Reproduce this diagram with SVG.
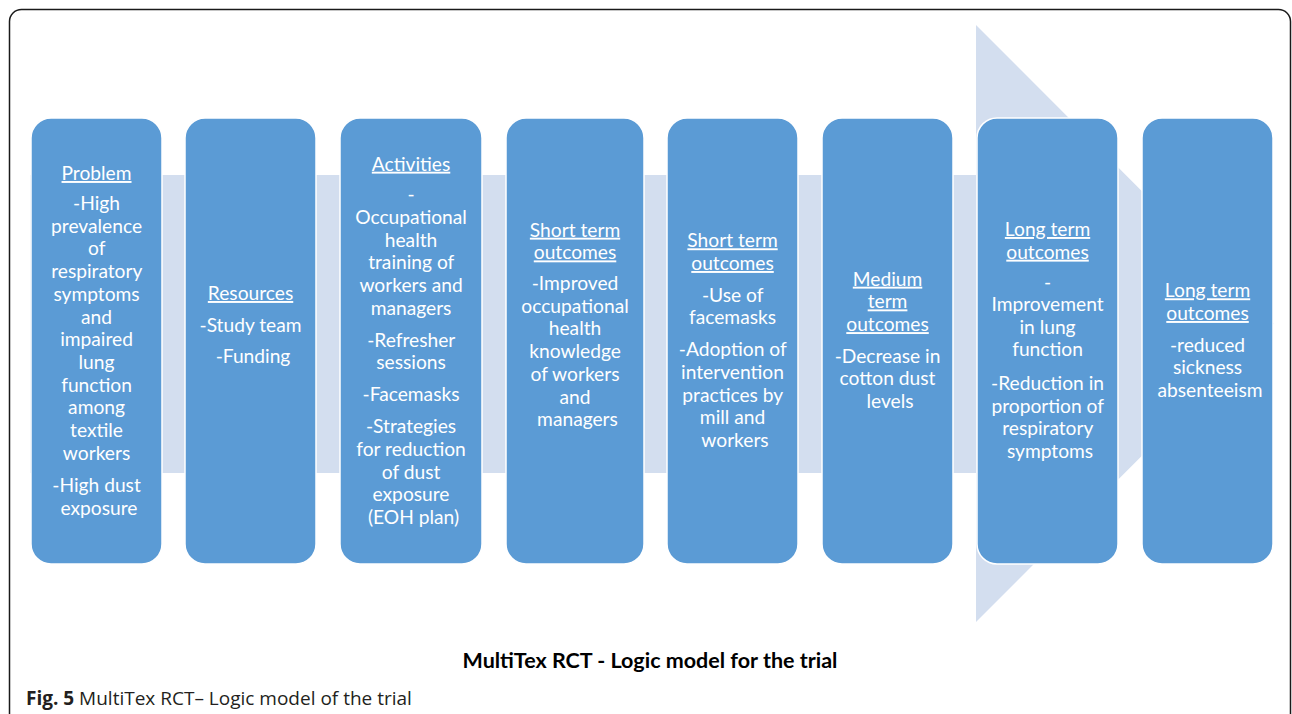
<svg xmlns="http://www.w3.org/2000/svg" width="1292" height="714" viewBox="0 0 1292 714">
<style>
.box{fill:#5B9BD5;stroke:#FFFFFF;stroke-width:1.5}
.t{font-family:Lato,"Open Sans","Liberation Sans",sans-serif;font-size:19.2px;fill:#FFFFFF;text-anchor:middle}
.u{text-decoration:underline}
.cap{font-family:Lato,"Liberation Sans",sans-serif;font-size:21.5px;font-weight:bold;fill:#000000;text-anchor:middle}
.fig{font-family:"Open Sans","Liberation Sans",sans-serif;font-size:19px;fill:#231F20}
</style>
<rect width="1292" height="714" fill="#FFFFFF"/>
<rect x="9.5" y="9.5" width="1281" height="760" rx="12" ry="12" fill="none" stroke="#1A1A1A" stroke-width="1.5"/>
<g id="connectors">
<polygon points="30,175 976,175 976,25 1274,323.5 976,622 976,473 30,473" fill="#D3DEEF"/>
</g>
<g id="problem">
<rect class="box" x="31" y="118" width="131" height="446" rx="20"/>
<text class="t" transform="translate(2.5,0)">
<tspan class="u" x="96.5" y="180">Problem</tspan>
<tspan x="96.5" y="210">-High</tspan>
<tspan x="96.5" y="232.7">prevalence</tspan>
<tspan x="96.5" y="255.4">of</tspan>
<tspan x="96.5" y="278.1">respiratory</tspan>
<tspan x="96.5" y="300.8">symptoms</tspan>
<tspan x="96.5" y="323.5">and</tspan>
<tspan x="96.5" y="346.2">impaired</tspan>
<tspan x="96.5" y="368.9">lung</tspan>
<tspan x="96.5" y="391.6">function</tspan>
<tspan x="96.5" y="414.3">among</tspan>
<tspan x="96.5" y="437">textile</tspan>
<tspan x="96.5" y="459.7">workers</tspan>
<tspan x="96.5" y="492">-High dust</tspan>
<tspan x="96.5" y="514.7">exposure</tspan>
</text>
</g>
<g id="resources">
<rect class="box" x="185" y="118" width="131" height="446" rx="20"/>
<text class="t" transform="translate(2.5,0)">
<tspan class="u" x="250.5" y="300">Resources</tspan>
<tspan x="250.5" y="331.7">-Study team</tspan>
<tspan x="250.5" y="363">-Funding</tspan>
</text>
</g>
<g id="activities">
<rect class="box" x="340" y="118" width="142" height="446" rx="20"/>
<text class="t" transform="translate(2.5,0)">
<tspan class="u" x="411" y="170.7">Activities</tspan>
<tspan x="411" y="201.3">-</tspan>
<tspan x="411" y="224">Occupational</tspan>
<tspan x="411" y="246.7">health</tspan>
<tspan x="411" y="269.3">training of</tspan>
<tspan x="411" y="292">workers and</tspan>
<tspan x="411" y="314.7">managers</tspan>
<tspan x="411" y="346.7">-Refresher</tspan>
<tspan x="411" y="369.4">sessions</tspan>
<tspan x="411" y="401.4">-Facemasks</tspan>
<tspan x="411" y="433.3">-Strategies</tspan>
<tspan x="411" y="456">for reduction</tspan>
<tspan x="411" y="478.7">of dust</tspan>
<tspan x="411" y="501.4">exposure</tspan>
<tspan x="411" y="524.1">(EOH plan)</tspan>
</text>
</g>
<g id="short-term-1">
<rect class="box" x="506" y="118" width="138" height="446" rx="20"/>
<text class="t" transform="translate(2.5,0)">
<tspan class="u" x="575" y="236.7">Short term</tspan>
<tspan class="u" x="575" y="259.4">outcomes</tspan>
<tspan x="575" y="290">-Improved</tspan>
<tspan x="575" y="312.7">occupational</tspan>
<tspan x="575" y="335.4">health</tspan>
<tspan x="575" y="358.1">knowledge</tspan>
<tspan x="575" y="380.8">of workers</tspan>
<tspan x="575" y="403.5">and</tspan>
<tspan x="575" y="426.2">managers</tspan>
</text>
</g>
<g id="short-term-2">
<rect class="box" x="667" y="118" width="131" height="446" rx="20"/>
<text class="t" transform="translate(2.5,0)">
<tspan class="u" x="732.5" y="247.3">Short term</tspan>
<tspan class="u" x="732.5" y="270">outcomes</tspan>
<tspan x="732.5" y="301.7">-Use of</tspan>
<tspan x="732.5" y="324.4">facemasks</tspan>
<tspan x="732.5" y="356.3">-Adoption of</tspan>
<tspan x="732.5" y="379">intervention</tspan>
<tspan x="732.5" y="401.7">practices by</tspan>
<tspan x="732.5" y="424.4">mill and</tspan>
<tspan x="732.5" y="447.1">workers</tspan>
</text>
</g>
<g id="medium-term">
<rect class="box" x="822" y="118" width="131" height="446" rx="20"/>
<text class="t" transform="translate(2.5,0)">
<tspan class="u" x="887.5" y="285.7">Medium</tspan>
<tspan class="u" x="887.5" y="308.4">term</tspan>
<tspan class="u" x="887.5" y="331.1">outcomes</tspan>
<tspan x="887.5" y="362.7">-Decrease in</tspan>
<tspan x="887.5" y="385.4">cotton dust</tspan>
<tspan x="887.5" y="408.1">levels</tspan>
</text>
</g>
<g id="long-term-1">
<rect class="box" x="977" y="118" width="141" height="446" rx="20"/>
<text class="t" transform="translate(2.5,0)">
<tspan class="u" x="1047.5" y="236">Long term</tspan>
<tspan class="u" x="1047.5" y="258.7">outcomes</tspan>
<tspan x="1047.5" y="288.5">-</tspan>
<tspan x="1047.5" y="311">Improvement</tspan>
<tspan x="1047.5" y="333.7">in lung</tspan>
<tspan x="1047.5" y="356.4">function</tspan>
<tspan x="1047.5" y="390">-Reduction in</tspan>
<tspan x="1047.5" y="412.7">proportion of</tspan>
<tspan x="1047.5" y="435.4">respiratory</tspan>
<tspan x="1047.5" y="458.1">symptoms</tspan>
</text>
</g>
<g id="long-term-2">
<rect class="box" x="1142" y="118" width="131" height="446" rx="20"/>
<text class="t" transform="translate(2.5,0)">
<tspan class="u" x="1207.5" y="297.3">Long term</tspan>
<tspan class="u" x="1207.5" y="320">outcomes</tspan>
<tspan x="1207.5" y="351.7">-reduced</tspan>
<tspan x="1207.5" y="374.4">sickness</tspan>
<tspan x="1207.5" y="397.1">absenteeism</tspan>
</text>
</g>
<text class="cap" x="650" y="668">MultiTex RCT - Logic model for the trial</text>
<text class="fig" x="26" y="705"><tspan font-weight="bold">Fig. 5</tspan> MultiTex RCT– Logic model of the trial</text>
</svg>
